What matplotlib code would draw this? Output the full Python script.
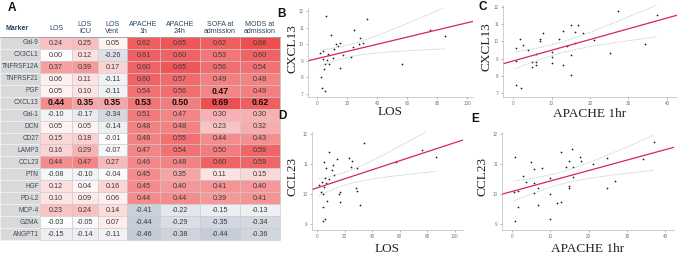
import numpy as np
import matplotlib
matplotlib.use("Agg")
import matplotlib.pyplot as plt
from matplotlib.patches import Rectangle

# ---------------- data ----------------
markers = ["Gal-9", "CX3CL1", "TNFRSF12A", "TNFRSF21", "PGF", "CXCL13", "Gal-1", "DCN",
           "CD27", "LAMP3", "CCL23", "PTN", "HGF", "PD-L2", "MCP-4", "GZMA", "ANGPT1"]
col_headers = ["LOS", "LOS\nICU", "LOS\nVent", "APACHE\n1h", "APACHE\n24h",
               "SOFA at\nadmission", "MODS at\nadmission"]
los = [0.24, 0.00, 0.37, 0.06, 0.05, 0.44, -0.10, 0.05, 0.15, 0.16, 0.44, -0.08, 0.12, 0.10, 0.23, -0.03, -0.15]
los_icu = [0.25, 0.12, 0.39, 0.11, 0.10, 0.35, -0.17, 0.05, 0.18, 0.29, 0.47, -0.10, 0.04, 0.09, 0.24, -0.05, -0.14]
los_vent = [0.05, -0.26, 0.17, -0.11, -0.11, 0.35, -0.34, -0.14, -0.01, -0.07, 0.27, -0.04, 0.16, 0.06, 0.14, 0.07, -0.11]
apache_1h = [0.62, 0.61, 0.60, 0.60, 0.54, 0.53, 0.51, 0.48, 0.48, 0.47, 0.46, 0.45, 0.45, 0.44, -0.41, -0.44, -0.46]
apache_24h = [0.65, 0.60, 0.65, 0.57, 0.56, 0.50, 0.47, 0.48, 0.55, 0.54, 0.48, 0.35, 0.40, 0.44, -0.22, -0.29, -0.38]
sofa = [0.62, 0.53, 0.56, 0.49, 0.47, 0.69, 0.30, 0.23, 0.44, 0.50, 0.60, 0.11, 0.41, 0.39, -0.15, -0.35, -0.44]
mods = [0.68, 0.60, 0.54, 0.48, 0.49, 0.62, 0.30, 0.32, 0.43, 0.59, 0.59, 0.15, 0.40, 0.41, -0.13, -0.34, -0.36]
bold_cells = [("CXCL13", c) for c in range(7)] + [("PGF", 5)]

# B: CXCL13 vs LOS
b_los = [5.8, 9.1, 12.7, 2.0, 4.2, 7.1, 3.8, 6.9, 5.3, 8.2, 4.7, 2.4, 3.1, 5.3, 10.9, 14.2,
         15.3, 15.3, 24.7, 33.6, 28.7, 28.0, 30.4, 23.8, 22.7, 56.4, 75.3, 85.3, 11.5, 17.5]
b_cxcl13 = [11.69, 10.58, 10.02, 9.44, 9.62, 9.42, 9.08, 9.02, 8.78, 8.81, 8.48, 8.01, 7.37, 7.21, 9.17, 9.88,
            10.08, 8.57, 10.88, 11.49, 10.38, 10.02, 10.08, 9.82, 9.22, 8.78, 10.88, 10.48, 9.70, 9.35]
# C: CXCL13 vs APACHE 1hr
c_apache = [27.2, 37.4, 15.0, 16.9, 13.0, 16.1, 18.2, 7.8, 1.8, 7.0, 7.0, 12.0, 21.0, 2.6, 16.1, 34.3, 0.8,
            3.9, 14.0, 10.0, 6.0, 15.0, 25.2, 10.0, 0.8, 5.0, 6.0, 10.0, 5.0, 6.0, 13.0, 15.0, 0.8, 2.0]
c_cxcl13 = [11.77, 11.50, 10.95, 10.95, 10.60, 10.55, 10.50, 10.45, 10.15, 10.15, 10.00, 10.15, 10.10, 9.80,
            9.90, 9.85, 9.60, 9.50, 9.70, 9.40, 9.25, 9.20, 9.30, 9.10, 8.85, 8.80, 8.80, 8.75, 8.50, 8.60,
            8.60, 8.05, 7.45, 7.30]
# D: CCL23 vs LOS
d_los = [8.7, 5.0, 14.5, 11.6, 6.5, 11.0, 12.4, 5.8, 8.7, 3.6, 6.5, 1.5, 5.0, 2.9, 4.4, 16.0, 7.3, 4.4,
         5.8, 4.4, 34.0, 23.5, 25.5, 24.7, 29.0, 57.5, 76.0, 86.5, 28.4, 29.0, 31.0, 16.7, 16.7]
d_ccl23 = [11.40, 11.07, 11.17, 10.97, 10.87, 10.80, 10.63, 10.53, 10.50, 10.40, 10.37, 10.30, 10.23, 10.07,
           10.00, 10.00, 9.77, 9.57, 9.17, 9.10, 11.70, 11.20, 11.10, 10.90, 10.87, 11.07, 11.47, 11.23,
           10.20, 10.10, 9.63, 10.07, 9.73]
# E: CCL23 vs APACHE 1hr
e_apache = [37.0, 15.7, 12.8, 17.8, 0.8, 24.8, 34.2, 5.0, 14.9, 18.0, 21.1, 14.1, 15.9, 7.8, 5.7, 2.9, 15.9,
            9.9, 3.7, 5.7, 26.9, 6.8, 14.9, 14.9, 24.8, 0.5, 1.6, 5.7, 9.9, 6.8, 11.8, 12.8, 1.6, 9.9, 0.8]
e_ccl23 = [11.73, 11.50, 11.40, 11.23, 11.23, 11.20, 11.17, 11.07, 11.10, 11.10, 11.00, 10.90, 10.90, 10.87,
           10.83, 10.60, 10.57, 10.53, 10.40, 10.37, 10.43, 10.20, 10.27, 10.20, 10.20, 10.07, 10.10, 10.03,
           10.00, 9.63, 9.70, 9.73, 9.57, 9.17, 9.10]

# ---------------- figure ----------------
W, H = 681, 257
fig = plt.figure(figsize=(W / 100, H / 100), dpi=100)
plt.rcParams["font.family"] = ["Liberation Sans", "DejaVu Sans"]
tab = fig.add_axes([0, 0, 1, 1])
tab.set_xlim(0, W)
tab.set_ylim(H, 0)
tab.axis("off")

# table layout (pixels)
col_edges = [0, 40, 72, 98, 127, 160, 200, 240, 280]
row_top, row_h = 37, 11.94

pos_max = np.array([238, 78, 80]) / 255.0
neg_max = np.array([196, 202, 215]) / 255.0
white = np.ones(3)


def cell_color(v):
    if v >= 0:
        f = min(v / 0.68, 1.0)
        return white + f * (pos_max - white)
    f = min(-v / 0.46, 1.0)
    return white + f * (neg_max - white)


columns = [los, los_icu, los_vent, apache_1h, apache_24h, sofa, mods]
tab.text(5, 28, "Marker", fontsize=5, color="#2b4560", fontweight="bold", va="center", ha="left")
for j, hdr in enumerate(col_headers):
    cx = (col_edges[j + 1] + col_edges[j + 2]) / 2
    tab.text(cx, 28, hdr, fontsize=5, color="#2b4560", ha="center", va="center",
             linespacing=1.1)
tab.plot([0, col_edges[-1]], [row_top, row_top], color="#9a9a9a", lw=0.6)

for i, m in enumerate(markers):
    y0 = row_top + i * row_h
    tab.add_patch(Rectangle((col_edges[0], y0), col_edges[1] - col_edges[0], row_h,
                            facecolor="#d9d9d9", edgecolor="#f2f2f2", lw=0.5))
    tab.text(col_edges[1] - 1.2, y0 + row_h / 2, m, fontsize=4.7, color="#3d4b5c",
             ha="right", va="center")
    for j, col in enumerate(columns):
        v = col[i]
        x0 = col_edges[j + 1]
        tab.add_patch(Rectangle((x0, y0), col_edges[j + 2] - x0, row_h,
                                facecolor=cell_color(v), edgecolor="#c8c8c8", lw=0.4))
        isb = (m, j) in bold_cells
        tab.text((x0 + col_edges[j + 2]) / 2, y0 + row_h / 2 + 0.3, f"{v:.2f}",
                 fontsize=6.3 if isb else 5.2, fontweight="bold" if isb else "normal",
                 color="#111111" if isb else "#3a3a3a", ha="center", va="center")

# panel letters
for letter, (lx, ly) in {"A": (12, 8), "B": (281, 14), "C": (483, 7),
                         "D": (282, 116), "E": (475, 119)}.items():
    tab.text(lx, ly, letter, fontsize=8.5, fontweight="bold", ha="center", va="center",
             color="#111111")


def px_axes(x0, y0, x1, y1):
    return fig.add_axes([x0 / W, 1 - y1 / H, (x1 - x0) / W, (y1 - y0) / H])


def panel(box, x, y, xlim, ylim, xticks, yticks, xlabel, ylabel, ylab_x, xlab_y):
    x = np.asarray(x, float)
    y = np.asarray(y, float)
    ax = px_axes(*box)
    ax.set_facecolor("none")
    ax.scatter(x, y, s=1.6, c="#222222", lw=0)
    slope, icpt = np.polyfit(x, y, 1)
    xx = np.array(xlim)
    ax.plot(xx, icpt + slope * xx, color="#d8245a", lw=0.9)
    n = len(x)
    resid = y - (icpt + slope * x)
    s = np.sqrt(np.sum(resid ** 2) / (n - 2))
    xs = np.linspace(x.min(), x.max(), 80)
    se = s * np.sqrt(1 / n + (xs - x.mean()) ** 2 / np.sum((x - x.mean()) ** 2))
    for sgn in (1, -1):
        ax.plot(xs, icpt + slope * xs + sgn * 2.03 * se, color="#b5b5b5", lw=0.6, ls=(0, (1, 1.2)))
    ax.set_xlim(*xlim)
    ax.set_ylim(*ylim)
    ax.set_xticks(xticks)
    ax.set_yticks(yticks)
    ax.tick_params(labelsize=3.3, length=1.5, width=0.4, colors="#777777", pad=1.5)
    for sp in ("top", "right"):
        ax.spines[sp].set_visible(False)
    for sp in ("left", "bottom"):
        ax.spines[sp].set_color("#bbbbbb")
        ax.spines[sp].set_linewidth(0.5)
    ax.set_xlabel(xlabel, fontsize=9.5, family=["Liberation Serif", "DejaVu Serif"], color="#222222")
    ax.set_ylabel(ylabel, fontsize=9.5, family=["Liberation Serif", "DejaVu Serif"], color="#222222")
    ax.xaxis.set_label_coords((box[0] + box[2]) / 2, xlab_y, transform=tab.transData)
    ax.yaxis.set_label_coords(ylab_x, (box[1] + box[3]) / 2 - 4, transform=tab.transData)
    return ax


panel((308, 8, 473, 97), b_los, b_cxcl13, (-6, 104), (6.82, 12.18), [0, 20, 40, 60, 80, 100],
      [7, 8, 9, 10, 11, 12], "LOS", "CXCL13", 298, 106)
panel((503, 5, 677, 97), c_apache, c_cxcl13, (-2.6, 42.6), (6.77, 12.1), [0, 10, 20, 30, 40],
      [7, 8, 9, 10, 11, 12], "APACHE 1hr", "CXCL13", 493, 108)
panel((312, 132, 463, 230), d_los, d_ccl23, (-3.6, 106), (8.8, 12.07), [0, 20, 40, 60, 80, 100],
      [9, 10, 11, 12], "LOS", "CCL23", 298, 243)
panel((502, 132, 674, 230), e_apache, e_ccl23, (-2.6, 42.3), (8.8, 12.07), [0, 10, 20, 30, 40],
      [9, 10, 11, 12], "APACHE 1hr", "CCL23", 488, 243)

fig.savefig("out.png", dpi=100)
